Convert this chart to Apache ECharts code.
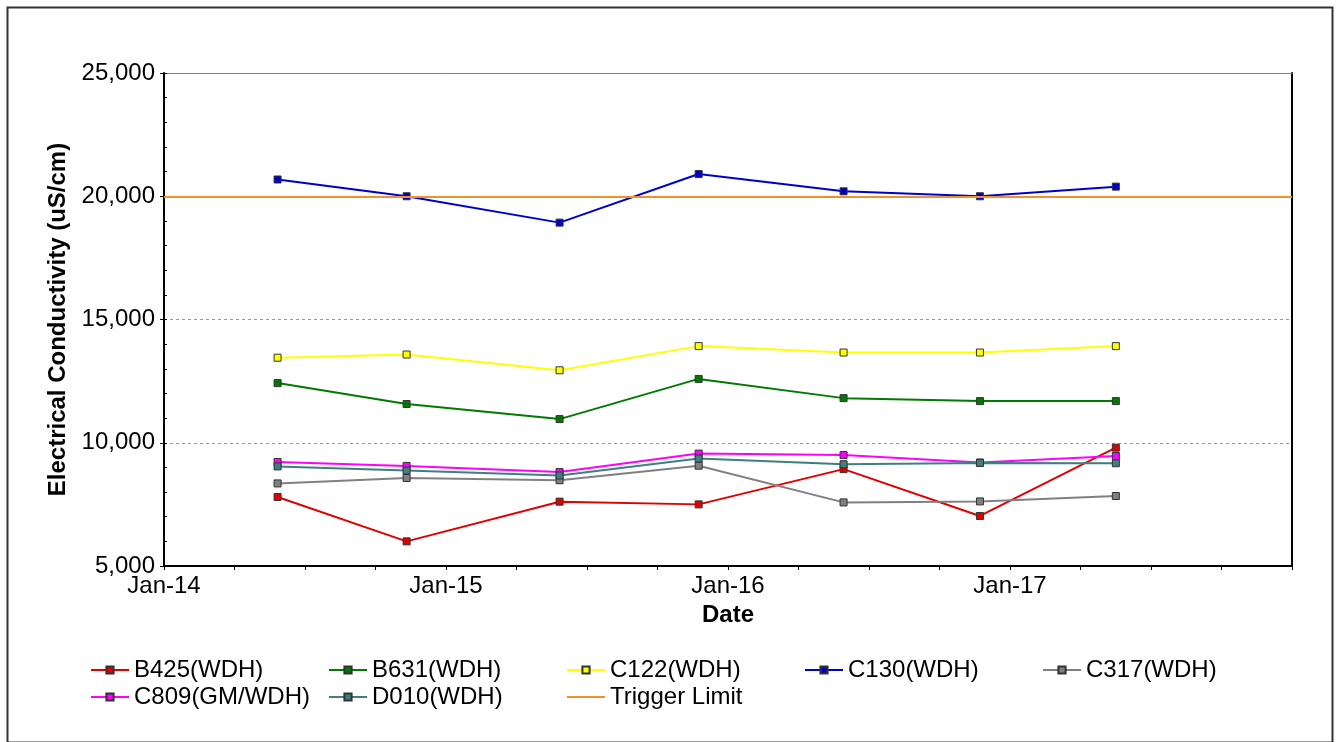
<!DOCTYPE html>
<html>
<head>
<meta charset="utf-8">
<script src="https://cdn.jsdelivr.net/npm/echarts@6/dist/echarts.min.js"></script>
<style>html,body{margin:0;padding:0;background:#fff}#c{width:1337px;height:742px}</style>
</head>
<body>
<div id="c"></div>
<script>
// ---- data ----
const sampleDates = ['2014-05-28','2014-11-11','2015-05-28','2015-11-24','2016-05-30','2016-11-23','2017-05-18'];
const B425 = [7800, 6000, 7610, 7500, 8930, 7030, 9800];
const B631 = [12420, 11570, 10960, 12590, 11810, 11690, 11690];
const C122 = [13450, 13580, 12940, 13920, 13660, 13660, 13920];
const C130 = [20680, 20000, 18930, 20900, 20200, 20000, 20390];
const C317 = [8350, 8570, 8480, 9070, 7580, 7620, 7840];
const C809 = [9220, 9060, 8810, 9560, 9500, 9200, 9460];
const D010 = [9040, 8870, 8670, 9360, 9130, 9180, 9170];
const triggerLimit = 20000;
const xTickYears = [2014, 2015, 2016, 2017];
const xTickLabels = ['Jan-14', 'Jan-15', 'Jan-16', 'Jan-17'];

// date string -> fractional year (value for the x scale)
function toYear(s) {
  const d = new Date(s + 'T00:00:00Z');
  const y = d.getUTCFullYear();
  const a = Date.UTC(y, 0, 1), b = Date.UTC(y + 1, 0, 1);
  return y + (d.getTime() - a) / (b - a);
}
const xs = sampleDates.map(toYear);
const pairs = vals => vals.map((v, i) => [xs[i], v]);

const FONT = 'Arial, "Liberation Sans", sans-serif';
const TRIGGER_COLOR = '#F0922B';
const defs = [
  {name: 'B425(WDH)', data: B425, color: '#E00000'},
  {name: 'B631(WDH)', data: B631, color: '#007A00'},
  {name: 'C122(WDH)', data: C122, color: '#FFFF00'},
  {name: 'C130(WDH)', data: C130, color: '#0000CC'},
  {name: 'C317(WDH)', data: C317, color: '#808080'},
  {name: 'C809(GM/WDH)', data: C809, color: '#FF00FF'},
  {name: 'D010(WDH)', data: D010, color: '#3F7F7F'}
];
const series = defs.map(d => ({
  name: d.name, type: 'line', data: pairs(d.data),
  symbol: 'rect', symbolSize: 7,
  lineStyle: {color: d.color, width: 2},
  itemStyle: {color: d.color, borderColor: '#333', borderWidth: 1},
  z: 3
}));
series.push({
  name: 'Trigger Limit', type: 'line', data: [], symbol: 'none',
  lineStyle: {color: TRIGGER_COLOR, width: 2},
  itemStyle: {color: TRIGGER_COLOR},
  z: 4,
  markLine: {
    silent: true, symbol: 'none', label: {show: false},
    lineStyle: {color: TRIGGER_COLOR, width: 2, type: 'solid'},
    data: [{yAxis: triggerLimit}]
  }
});

const legendCols = [
  ['B425(WDH)', 'C809(GM/WDH)'],
  ['B631(WDH)', 'D010(WDH)'],
  ['C122(WDH)', 'Trigger Limit'],
  ['C130(WDH)'],
  ['C317(WDH)']
];
const legends = legendCols.map((col, i) => ({
  data: col.map(n => n === 'Trigger Limit'
    ? {name: n, itemStyle: {color: 'rgba(0,0,0,0)', borderWidth: 0}}
    : n),
  orient: 'vertical', left: 90 + 238 * i, top: 658,
  itemWidth: 38, itemHeight: 9, itemGap: 3, padding: 0,
  textStyle: {fontFamily: FONT, fontSize: 24, color: '#000', lineHeight: 24},
  selectedMode: false
}));

const chart = echarts.init(document.getElementById('c'), null, {renderer: 'canvas'});
chart.setOption({
  animation: false,
  backgroundColor: '#fff',
  graphic: [{
    type: 'rect', left: 5, top: 5, z: 0,
    shape: {width: 1325, height: 735},
    style: {fill: 'none', stroke: '#333', lineWidth: 2}
  }],
  legend: legends,
  grid: {left: 164, top: 73, right: 45, bottom: 176},
  xAxis: [{
    type: 'value', min: 2014, max: 2018, interval: 0.25,
    name: 'Date', nameLocation: 'middle', nameGap: 35,
    nameTextStyle: {fontFamily: FONT, fontSize: 24, fontWeight: 'bold', color: '#000'},
    axisLine: {show: true, lineStyle: {color: '#000', width: 2}},
    axisTick: {show: true, length: 4, lineStyle: {color: '#000'}},
    axisLabel: {
      fontFamily: FONT, fontSize: 24, color: '#000', margin: 8,
      formatter: v => { const k = xTickYears.indexOf(Math.round(v * 1000) / 1000); return k >= 0 ? xTickLabels[k] : ''; }
    },
    splitLine: {show: false}
  }, {
    type: 'value', position: 'top', min: 2014, max: 2018,
    axisLine: {show: true, lineStyle: {color: '#808080', width: 1}},
    axisTick: {show: false}, axisLabel: {show: false}, splitLine: {show: false}
  }],
  yAxis: [{
    type: 'value', min: 5000, max: 25000, interval: 5000,
    name: 'Electrical Conductivity (uS/cm)', nameLocation: 'middle', nameGap: 86,
    nameTextStyle: {fontFamily: FONT, fontSize: 24, fontWeight: 'bold', color: '#000'},
    axisLine: {show: true, lineStyle: {color: '#000', width: 2}},
    axisTick: {show: true, length: 4, lineStyle: {color: '#000'}},
    axisLabel: {fontFamily: FONT, fontSize: 24, color: '#000', margin: 9,
      formatter: v => v.toLocaleString('en-US')},
    splitLine: {show: true, lineStyle: {color: '#999', width: 1, type: [3, 3]}}
  }, {
    type: 'value', position: 'right', min: 5000, max: 25000, interval: 5000,
    axisLine: {show: true, lineStyle: {color: '#000', width: 2}},
    axisTick: {show: false}, axisLabel: {show: false}, splitLine: {show: false}
  }, {
    type: 'value', position: 'left', min: 5000, max: 25000, interval: 1000,
    axisLine: {show: false},
    axisTick: {show: true, inside: true, length: 3, lineStyle: {color: '#000'}},
    axisLabel: {show: false}, splitLine: {show: false}
  }],
  series: series
});
</script>
</body>
</html>
